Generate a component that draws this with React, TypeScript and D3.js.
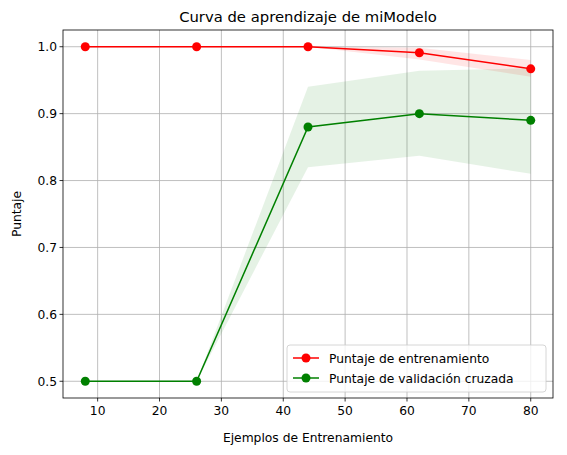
import * as d3 from "d3";

const sizes = [8, 26, 44, 62, 80];
const trainMean = [1.0, 1.0, 1.0, 0.991, 0.967];
const trainLow = [1.0, 1.0, 1.0, 0.981, 0.955];
const trainHigh = [1.0, 1.0, 1.0, 0.9985, 0.98];
const valMean = [0.5, 0.5, 0.88, 0.9, 0.89];
const valLow = [0.5, 0.5, 0.82, 0.837, 0.81];
const valHigh = [0.5, 0.5, 0.94, 0.964, 0.968];
const xTicks = [10, 20, 30, 40, 50, 60, 70, 80];
const yTicks = [0.5, 0.6, 0.7, 0.8, 0.9, 1.0];

const W = 567, H = 455;
const L = 63, R = 553, T = 30, B = 398;

export default function App() {
  const x = d3.scaleLinear().domain([4.4, 83.6]).range([L, R]);
  const y = d3.scaleLinear().domain([0.475, 1.025]).range([B, T]);
  const line = d3.line<number>().x((_, i) => x(sizes[i])).y((d) => y(d));
  const area = (lo: number[], hi: number[]) =>
    d3.area<number>().x((_, i) => x(sizes[i])).y0((_, i) => y(lo[i])).y1((d) => y(d))(hi) ?? "";
  const font = "DejaVu Sans, sans-serif";
  return (
    <svg width={W} height={H} style={{ position: "absolute", left: 0, top: 0 }} fontFamily={font}>
      <rect width={W} height={H} fill="#fff" />
      {xTicks.map((t) => (
        <g key={"x" + t}>
          <line x1={x(t)} x2={x(t)} y1={T} y2={B} stroke="#b0b0b0" strokeWidth={0.8} />
          <line x1={x(t)} x2={x(t)} y1={B} y2={B + 3.5} stroke="#000" strokeWidth={0.8} />
          <text x={x(t)} y={B + 17} fontSize={12.3} textAnchor="middle">{t}</text>
        </g>
      ))}
      {yTicks.map((t) => (
        <g key={"y" + t}>
          <line x1={L} x2={R} y1={y(t)} y2={y(t)} stroke="#b0b0b0" strokeWidth={0.8} />
          <line x1={L - 3.5} x2={L} y1={y(t)} y2={y(t)} stroke="#000" strokeWidth={0.8} />
          <text x={L - 6} y={y(t) + 4.3} fontSize={12.3} textAnchor="end">{t.toFixed(1)}</text>
        </g>
      ))}
      <path d={area(trainLow, trainHigh)} fill="red" fillOpacity={0.1} />
      <path d={area(valLow, valHigh)} fill="green" fillOpacity={0.1} />
      <path d={line(trainMean) ?? ""} fill="none" stroke="red" strokeWidth={1.5} />
      <path d={line(valMean) ?? ""} fill="none" stroke="green" strokeWidth={1.5} />
      {sizes.map((s, i) => (
        <g key={"p" + s}>
          <circle cx={x(s)} cy={y(trainMean[i])} r={4.5} fill="red" />
          <circle cx={x(s)} cy={y(valMean[i])} r={4.5} fill="green" />
        </g>
      ))}
      <rect x={L} y={T} width={R - L} height={B - T} fill="none" stroke="#000" strokeWidth={0.8} />
      <text x={(L + R) / 2} y={T - 8} fontSize={14.8} textAnchor="middle">Curva de aprendizaje de miModelo</text>
      <text x={(L + R) / 2} y={B + 44} fontSize={12.3} textAnchor="middle">Ejemplos de Entrenamiento</text>
      <text transform={`translate(${L - 42},${(T + B) / 2}) rotate(-90)`} fontSize={12.3} textAnchor="middle">Puntaje</text>
      <g transform={`translate(${287},${345})`}>
        <rect width={259} height={47} rx={3} fill="#fff" fillOpacity={0.8} stroke="#ccc" strokeWidth={0.8} />
        <line x1={6} x2={32} y1={13} y2={13} stroke="red" strokeWidth={1.5} />
        <circle cx={19} cy={13} r={4.5} fill="red" />
        <text x={42} y={17.5} fontSize={12.3}>Puntaje de entrenamiento</text>
        <line x1={6} x2={32} y1={33} y2={33} stroke="green" strokeWidth={1.5} />
        <circle cx={19} cy={33} r={4.5} fill="green" />
        <text x={42} y={37.5} fontSize={12.3}>Puntaje de validación cruzada</text>
      </g>
    </svg>
  );
}
